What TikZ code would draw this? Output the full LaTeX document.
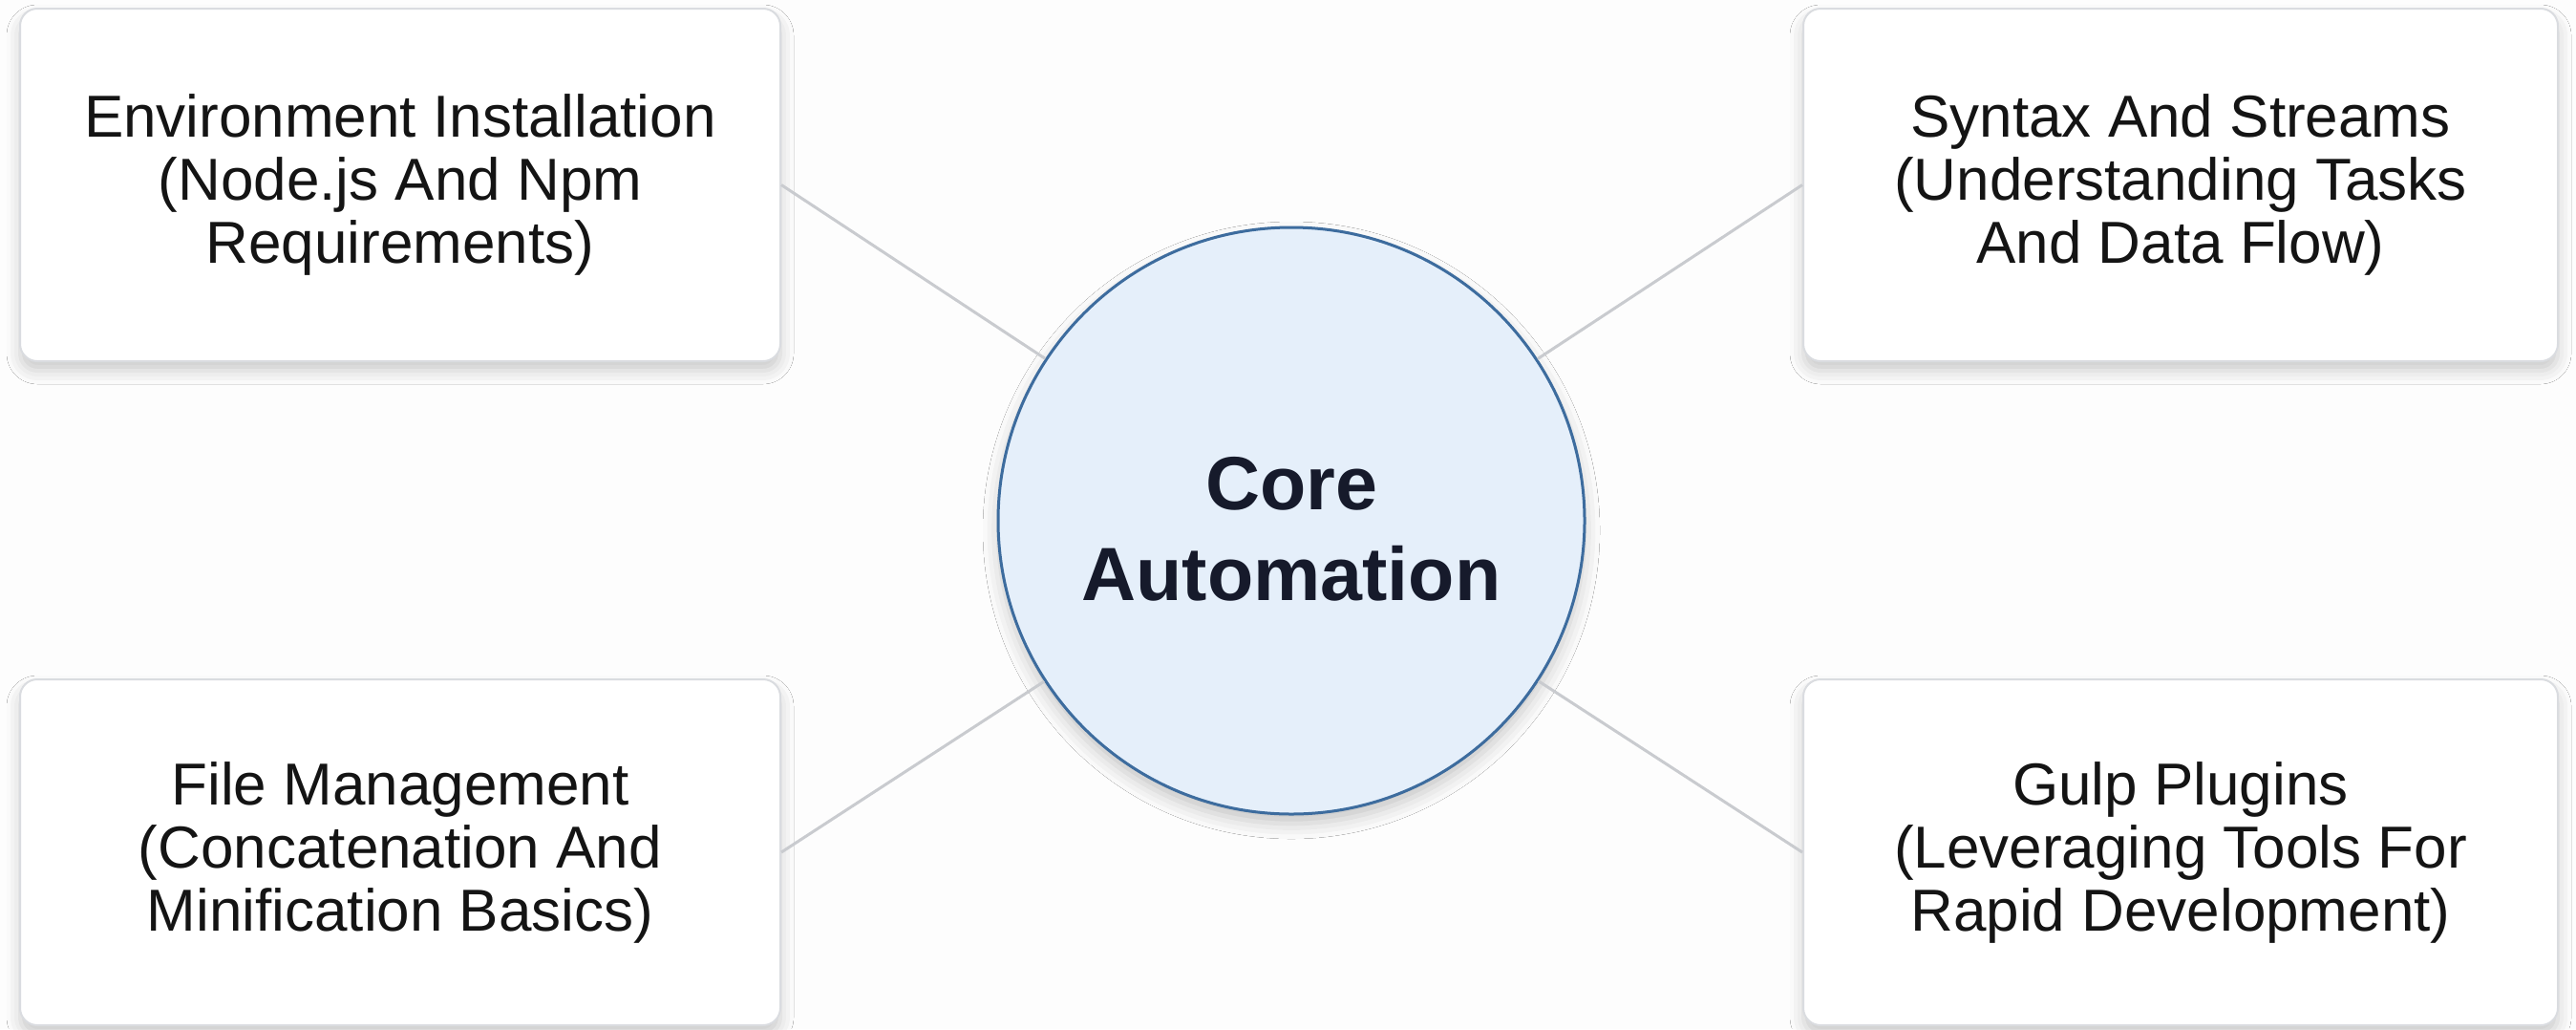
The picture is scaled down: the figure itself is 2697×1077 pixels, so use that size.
\documentclass[tikz,border=0pt]{standalone}
\usepackage{fontspec}
\setmainfont{Liberation Sans}
\usetikzlibrary{shadows.blur}
\definecolor{linegray}{HTML}{C9CBCF}
\definecolor{boxborder}{HTML}{DADCE0}
\definecolor{corefill}{HTML}{E5EFFA}
\definecolor{coreline}{HTML}{3D6C9E}
\definecolor{coretext}{HTML}{161A2B}
\definecolor{bgcol}{HTML}{FDFDFD}
\begin{document}
\begin{tikzpicture}[x=1pt,y=-1pt,
  topic/.style={draw=boxborder, line width=2pt, fill=white, rounded corners=18pt,
    minimum height=369pt, align=center, inner sep=0pt,
    font=\fontsize{62}{66}\selectfont, text=black!92,
    blur shadow={shadow xshift=0pt, shadow yshift=-10pt, shadow blur radius=14pt, shadow opacity=20}},
  core/.style={circle, draw=coreline, line width=3pt, fill=corefill, minimum size=614pt,
    inner sep=0pt,
    blur shadow={shadow xshift=0pt, shadow yshift=-10pt, shadow blur radius=16pt, shadow opacity=22}},
  coretitle/.style={align=center, inner sep=0pt, font=\fontsize{79}{95}\selectfont\bfseries, text=coretext, yshift=-9pt},
  link/.style={draw=linegray, line width=3pt}]
\fill[bgcol] (0,0) rectangle (2697,1077);
\useasboundingbox (0,0) rectangle (2697,1077);
\node[topic, minimum width=796pt] (env) at (419,193.5) {Environment Installation\\(Node.js And Npm\\Requirements)};
\node[topic, minimum width=790pt] (syn) at (2283,193.5) {Syntax And Streams\\(Understanding Tasks\\And Data Flow)};
\node[topic, minimum width=796pt, minimum height=362pt] (file) at (419,892) {File Management\\(Concatenation And\\Minification Basics)};
\node[topic, minimum width=790pt, minimum height=362pt] (gulp) at (2283,892) {Gulp Plugins\\(Leveraging Tools For\\Rapid Development)};
\node[core, label={[coretitle]center:Core\\Automation}] (core) at (1352,545) {};
\draw[link] (env.east) -- (core);
\draw[link] (syn.west) -- (core);
\draw[link] (file.east) -- (core);
\draw[link] (gulp.west) -- (core);
\end{tikzpicture}
\end{document}
